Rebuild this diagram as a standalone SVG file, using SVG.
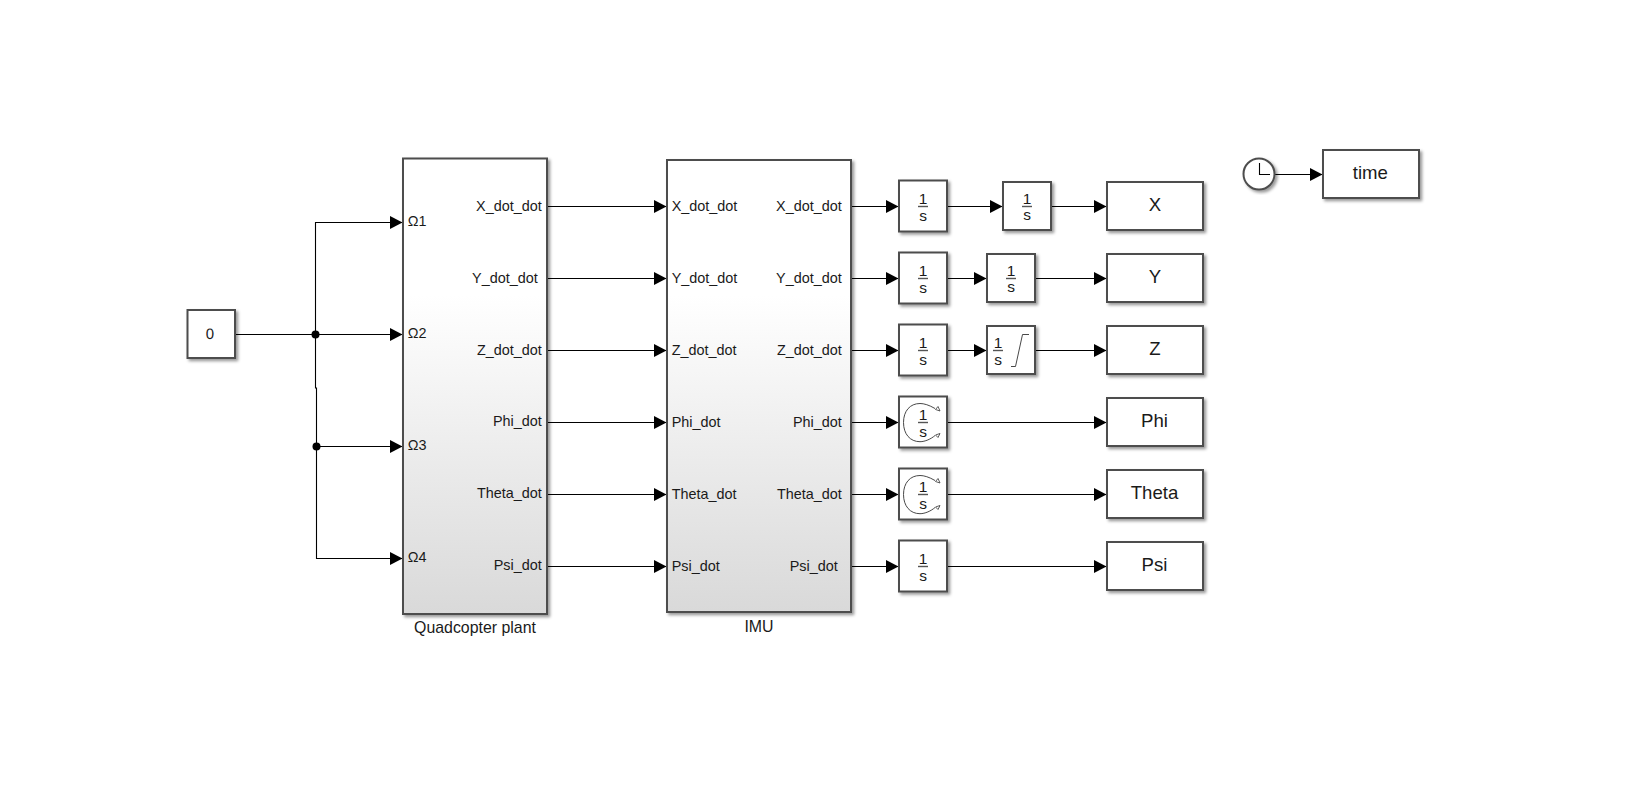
<svg xmlns="http://www.w3.org/2000/svg" width="1630" height="809" viewBox="0 0 1630 809">
<style>
text{font-family:"Liberation Sans",Arial,sans-serif;fill:#1a1a1a}
.p{font-size:14.4px}.e{text-anchor:end}.m{text-anchor:middle}
.s{font-size:18.6px;text-anchor:middle}
.n{font-size:15.9px;text-anchor:middle}
.f{font-size:15.5px;text-anchor:middle}
.b{fill:#fff;stroke:#4d4d4d;stroke-width:2;filter:url(#sh)}
.w{fill:none;stroke:#000;stroke-width:1.1}
.a{marker-end:url(#ar)}
.bar{stroke:#555;stroke-width:1.4}
.ic{fill:none;stroke:#333;stroke-width:.9}
.oh{fill:#fff;stroke:#333;stroke-width:.8}
</style>
<defs>
<filter id="sh" x="-10%" y="-10%" width="125%" height="125%"><feDropShadow dx="2.2" dy="2.2" stdDeviation="1.6" flood-color="#000" flood-opacity=".4"/></filter>
<linearGradient id="g" x1="0" y1="0" x2="0" y2="1"><stop offset="0" stop-color="#fff"/><stop offset=".3" stop-color="#fff"/><stop offset="1" stop-color="#d9d9d9"/></linearGradient>
<marker id="ar" markerUnits="userSpaceOnUse" markerWidth="13" markerHeight="13" refX="12.500" refY="6.500" orient="auto"><path d="M0 0L12.500 6.500L0 13z" fill="#000"/></marker>
</defs>

<g id="connectors">
<path class="w a" d="M236 334.500H402.500"/>
<path class="w a" d="M315.500 334.500V222.500H402.500"/>
<path class="w" d="M315.500 334.500V388H316.500V446.500"/>
<path class="w a" d="M316.500 446.500H402.500"/>
<path class="w a" d="M316.500 446.500V558.500H402.500"/>
<circle cx="315.500" cy="334.500" r="4"/><circle cx="316.500" cy="446.500" r="4"/>
<path class="w a" d="M548 206.500H666.500"/><path class="w a" d="M548 278.500H666.500"/><path class="w a" d="M548 350.500H666.500"/>
<path class="w a" d="M548 422.500H666.500"/><path class="w a" d="M548 494.500H666.500"/><path class="w a" d="M548 566.500H666.500"/>
<path class="w a" d="M852 206.500H898.500"/><path class="w a" d="M852 278.500H898.500"/><path class="w a" d="M852 350.500H898.500"/>
<path class="w a" d="M852 422.500H898.500"/><path class="w a" d="M852 494.500H898.500"/><path class="w a" d="M852 566.500H898.500"/>
<path class="w a" d="M948 206.500H1002.500"/><path class="w a" d="M1052 206.500H1106.500"/>
<path class="w a" d="M948 278.500H986.500"/><path class="w a" d="M1036 278.500H1106.500"/>
<path class="w a" d="M948 350.500H986.500"/><path class="w a" d="M1036 350.500H1106.500"/>
<path class="w a" d="M948 422.500H1106.500"/><path class="w a" d="M948 494.500H1106.500"/><path class="w a" d="M948 566.500H1106.500"/>
<path class="w a" d="M1275 174.500H1322.500"/>
</g>

<g id="constant"><rect class="b" x="187.500" y="310" width="47.500" height="48"/><text class="m" style="font-size:15px;text-rendering:geometricPrecision" x="210" y="339.200">0</text></g>

<g id="plant">
<rect class="b" x="403" y="158.500" width="144" height="455.500" style="fill:url(#g)"/>
<text class="p" x="407.700" y="226">Ω1</text><text class="p" x="407.700" y="338">Ω2</text><text class="p" x="407.700" y="450">Ω3</text><text class="p" x="407.700" y="562">Ω4</text>
<text class="p e" x="541.700" y="210.500">X_dot_dot</text><text class="p e" x="537.700" y="282.500">Y_dot_dot</text><text class="p e" x="541.700" y="354.500">Z_dot_dot</text>
<text class="p e" x="541.700" y="426.300">Phi_dot</text><text class="p e" x="541.700" y="498.300">Theta_dot</text><text class="p e" x="541.700" y="570.300">Psi_dot</text>
<text class="n" x="475" y="633">Quadcopter plant</text>
</g>

<g id="imu">
<rect class="b" x="667" y="160" width="184" height="452" style="fill:url(#g)"/>
<text class="p" x="671.700" y="211">X_dot_dot</text><text class="p" x="671.700" y="283">Y_dot_dot</text><text class="p" x="671.700" y="355">Z_dot_dot</text>
<text class="p" x="671.700" y="427">Phi_dot</text><text class="p" x="671.700" y="499">Theta_dot</text><text class="p" x="671.700" y="571">Psi_dot</text>
<text class="p e" x="841.700" y="211">X_dot_dot</text><text class="p e" x="841.700" y="283">Y_dot_dot</text><text class="p e" x="841.700" y="355">Z_dot_dot</text>
<text class="p e" x="841.700" y="427">Phi_dot</text><text class="p e" x="841.700" y="499">Theta_dot</text><text class="p e" x="837.700" y="571">Psi_dot</text>
<text class="n" x="759" y="632">IMU</text>
</g>

<g id="int-x1"><rect class="b" x="899" y="180.500" width="48" height="51"/><text class="f" x="923" y="204">1</text><path class="bar" d="M918 206.500H928"/><text class="f" x="923" y="221">s</text></g>
<g id="int-x2"><rect class="b" x="1003" y="182" width="48" height="48"/><text class="f" x="1027" y="204">1</text><path class="bar" d="M1022 206.500H1032"/><text class="f" x="1027" y="220">s</text></g>
<g id="int-y1"><rect class="b" x="899" y="252.500" width="48" height="51"/><text class="f" x="923" y="276">1</text><path class="bar" d="M918 278.500H928"/><text class="f" x="923" y="293">s</text></g>
<g id="int-y2"><rect class="b" x="987" y="254" width="48" height="48"/><text class="f" x="1011" y="276">1</text><path class="bar" d="M1006 278.500H1016"/><text class="f" x="1011" y="292">s</text></g>
<g id="int-z1"><rect class="b" x="899" y="324.500" width="48" height="51"/><text class="f" x="923" y="348">1</text><path class="bar" d="M918 350.500H928"/><text class="f" x="923" y="365">s</text></g>
<g id="int-z2"><rect class="b" x="987" y="326" width="48" height="48"/><text class="f" x="998" y="348">1</text><path class="bar" d="M993 350.500H1003"/><text class="f" x="998" y="364.500">s</text><path class="ic" d="M1011 366.500H1015.500L1022.500 334.500H1029"/></g>

<g id="int-phi"><rect class="b" x="899" y="396.500" width="48" height="51"/><text class="f" x="923" y="420">1</text><path class="bar" d="M918 422.500H928"/><text class="f" x="923" y="437">s</text>
<path class="ic" d="M935 408.500C929 405 924 403.500 920 403.500C910 403.500 903.500 411 903.500 422.500C903.500 434 910 441.700 920 441.700C925 441.700 931 439 935 435.500"/><path class="oh" d="M935.500 409.500L938 406.500L940 411zM935.500 435L940 433.500L938 437.500z"/></g>
<g id="int-theta"><rect class="b" x="899" y="468.500" width="48" height="51"/><text class="f" x="923" y="492">1</text><path class="bar" d="M918 494.500H928"/><text class="f" x="923" y="509">s</text>
<path class="ic" d="M935 480.500C929 477 924 475.500 920 475.500C910 475.500 903.500 483 903.500 494.500C903.500 506 910 513.700 920 513.700C925 513.700 931 511 935 507.500"/><path class="oh" d="M935.500 481.500L938 478.500L940 483zM935.500 507L940 505.500L938 509.500z"/></g>
<g id="int-psi"><rect class="b" x="899" y="540.500" width="48" height="51"/><text class="f" x="923" y="564">1</text><path class="bar" d="M918 566.500H928"/><text class="f" x="923" y="581">s</text></g>

<g id="out-x"><rect class="b" x="1107" y="182" width="96" height="48"/><text class="s" x="1155" y="211">X</text></g>
<g id="out-y"><rect class="b" x="1107" y="254" width="96" height="48"/><text class="s" x="1155" y="283">Y</text></g>
<g id="out-z"><rect class="b" x="1107" y="326" width="96" height="48"/><text class="s" x="1155" y="355">Z</text></g>
<g id="out-phi"><rect class="b" x="1107" y="398" width="96" height="48"/><text class="s" x="1154.500" y="427">Phi</text></g>
<g id="out-theta"><rect class="b" x="1107" y="470" width="96" height="48"/><text class="s" x="1154.500" y="499">Theta</text></g>
<g id="out-psi"><rect class="b" x="1107" y="542" width="96" height="48"/><text class="s" x="1154.500" y="571">Psi</text></g>

<g id="clock"><circle class="b" cx="1259" cy="174" r="15.500"/><path class="ic" d="M1259.500 163V174.500H1270" style="stroke:#000;stroke-width:1.100"/></g>
<g id="out-time"><rect class="b" x="1323" y="150" width="96" height="48"/><text class="s" x="1370.300" y="179">time</text></g>
</svg>
